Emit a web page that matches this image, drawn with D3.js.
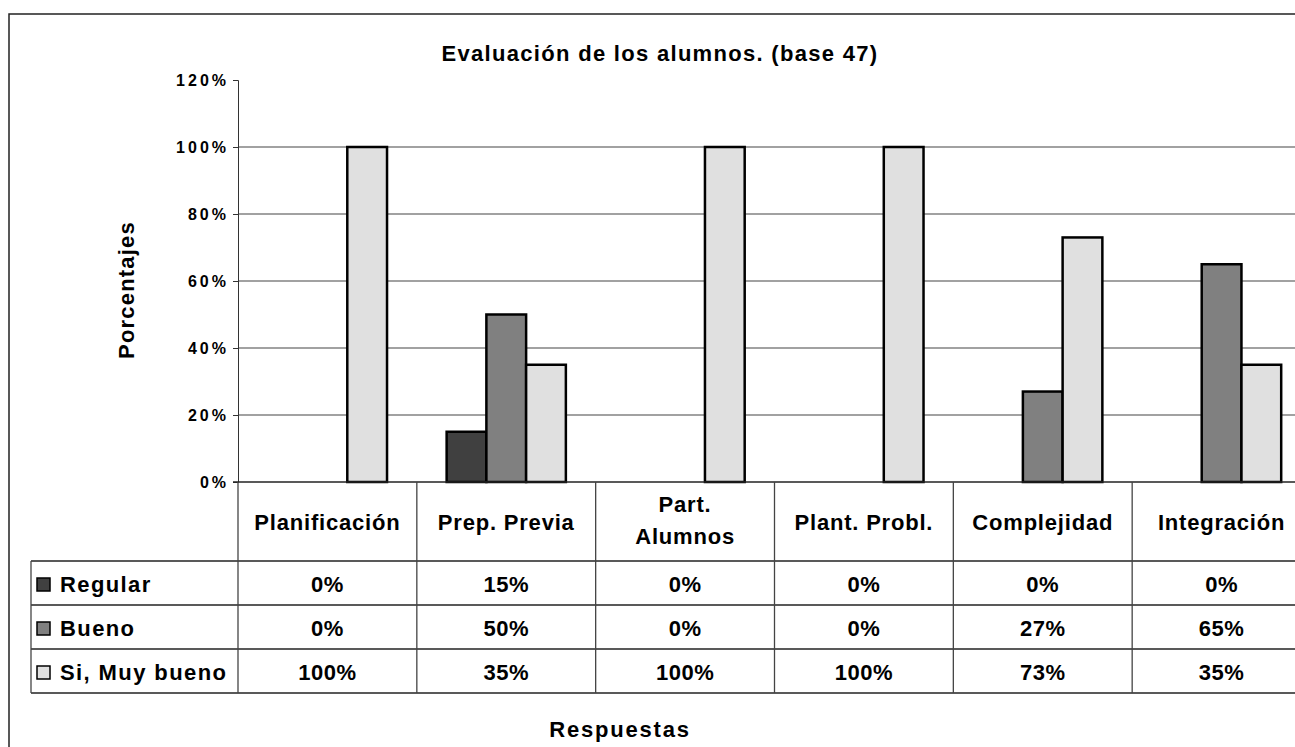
<!DOCTYPE html>
<html>
<head>
<meta charset="utf-8">
<script src="https://cdn.jsdelivr.net/npm/d3@7"></script>
<style>
  body { margin: 0; background: #fff; }
  svg text { font-family: "Liberation Sans", Arial, sans-serif; font-weight: bold; fill: #000; }
  .axis path, .axis line { stroke: #333; }
</style>
</head>
<body>
<svg id="chart"></svg>
<script>
const w = 1295, h = 747;

// data
const categories = ["Planificación", "Prep. Previa", "Part.\nAlumnos", "Plant. Probl.", "Complejidad", "Integración"];
const series = ["Regular", "Bueno", "Si, Muy bueno"];
const regular = [0, 0.15, 0, 0, 0, 0];
const bueno = [0, 0.50, 0, 0, 0.27, 0.65];
const muyBueno = [1.00, 0.35, 1.00, 1.00, 0.73, 0.35];
const yTicks = [0, 0.2, 0.4, 0.6, 0.8, 1.0, 1.2];
const colors = ["#404040", "#808080", "#e0e0e0"];

const values = [regular, bueno, muyBueno];

const plot = { left: 238, right: 1311, top: 80, bottom: 482 };
const tableLeft = 31, tableBottom = 693, headerBottom = 561;

const chart = d3.select('#chart')
  .attr('width', w)
  .attr('height', h);

// outer frame (runs off the page on the right and bottom)
chart.append('rect')
  .attr('x', 9).attr('y', 14)
  .attr('width', 1320).attr('height', 760)
  .attr('fill', 'none')
  .attr('stroke', '#222')
  .attr('stroke-width', 1.5);

const xScale = d3.scaleBand()
  .domain(categories)
  .range([plot.left, plot.right]);

const xInner = d3.scaleBand()
  .domain(series)
  .range([0, xScale.bandwidth()])
  .paddingInner(0)
  .paddingOuter(0.75);

const yScale = d3.scaleLinear()
  .domain([0, 1.2])
  .range([plot.bottom, plot.top]);

const colorScale = d3.scaleOrdinal().domain(series).range(colors);

// gridlines
chart.append('g')
  .selectAll('line')
  .data(yTicks.filter(d => d > 0 && d < 1.2))
  .join('line')
  .attr('x1', plot.left).attr('x2', plot.right)
  .attr('y1', d => yScale(d)).attr('y2', d => yScale(d))
  .attr('stroke', '#444')
  .attr('stroke-width', 1.2);

// Y AXIS
const yAxisGroup = chart.append('g')
  .attr('class', 'axis')
  .attr('transform', `translate(${plot.left}, 0)`)
  .call(d3.axisLeft(yScale)
    .tickValues(yTicks)
    .tickSize(5)
    .tickPadding(4)
    .tickFormat(d3.format('.0%')));
yAxisGroup.select('.domain').attr('stroke', '#555');
yAxisGroup.selectAll('text')
  .style('font-size', '16px')
  .style('letter-spacing', '3px');

// bars
const rows = [];
series.forEach((s, i) => {
  categories.forEach((c, j) => rows.push({ series: s, category: c, value: values[i][j] }));
});

chart.append('g')
  .selectAll('rect')
  .data(rows.filter(d => d.value > 0))
  .join('rect')
  .attr('x', d => xScale(d.category) + xInner(d.series))
  .attr('y', d => yScale(d.value))
  .attr('width', xInner.bandwidth())
  .attr('height', d => yScale(0) - yScale(d.value))
  .attr('fill', d => colorScale(d.series))
  .attr('stroke', '#000')
  .attr('stroke-width', 2.5);

// x axis line at 0%
chart.append('line')
  .attr('x1', plot.left - 5).attr('x2', w + 20)
  .attr('y1', yScale(0)).attr('y2', yScale(0))
  .attr('stroke', '#222').attr('stroke-width', 1.5);

// DATA TABLE
const rowScale = d3.scaleBand()
  .domain(series)
  .range([headerBottom, tableBottom]);

const table = chart.append('g');

// horizontal lines of the table
table.selectAll('line.hrow')
  .data([headerBottom, ...series.map(s => rowScale(s) + rowScale.bandwidth())])
  .join('line')
  .attr('class', 'hrow')
  .attr('x1', tableLeft).attr('x2', w + 20)
  .attr('y1', d => d).attr('y2', d => d)
  .attr('stroke', '#222').attr('stroke-width', 1.3);

// vertical lines
table.selectAll('line.vcol')
  .data(categories)
  .join('line')
  .attr('class', 'vcol')
  .attr('x1', d => xScale(d)).attr('x2', d => xScale(d))
  .attr('y1', plot.bottom).attr('y2', tableBottom)
  .attr('stroke', '#444').attr('stroke-width', 1.3);

table.append('line')
  .attr('x1', tableLeft).attr('x2', tableLeft)
  .attr('y1', headerBottom).attr('y2', tableBottom)
  .attr('stroke', '#444').attr('stroke-width', 1.3);

// header labels
const headers = table.selectAll('text.head')
  .data(categories)
  .join('text')
  .attr('class', 'head')
  .attr('text-anchor', 'middle')
  .style('font-size', '22px')
  .style('letter-spacing', '0.8px');

headers.each(function(d) {
  const lines = d.split('\n');
  const cx = xScale(d) + xScale.bandwidth() / 2;
  const cy = (plot.bottom + headerBottom) / 2 + 8 - (lines.length - 1) * 18;
  d3.select(this).selectAll('tspan')
    .data(lines)
    .join('tspan')
    .attr('x', cx)
    .attr('y', (l, i) => cy + i * 32)
    .text(l => l);
});

// legend keys and row labels
series.forEach((s, i) => {
  const cy = rowScale(s) + rowScale.bandwidth() / 2;
  table.append('rect')
    .attr('x', 37).attr('y', cy - 5)
    .attr('width', 13).attr('height', 13)
    .attr('fill', colorScale(s))
    .attr('stroke', '#000').attr('stroke-width', 1.5);
  table.append('text')
    .attr('x', 60).attr('y', cy + 9)
    .style('font-size', '22px')
    .style('letter-spacing', '1.4px')
    .text(s);
});

// table values
table.selectAll('text.val')
  .data(rows)
  .join('text')
  .attr('class', 'val')
  .attr('text-anchor', 'middle')
  .attr('x', d => xScale(d.category) + xScale.bandwidth() / 2)
  .attr('y', d => rowScale(d.series) + rowScale.bandwidth() / 2 + 9)
  .style('font-size', '22px')
  .style('letter-spacing', '0.5px')
  .text(d => d3.format('.0%')(d.value));

// TITLE
chart.append('text')
  .attr('x', 660).attr('y', 61)
  .attr('text-anchor', 'middle')
  .style('font-size', '22px')
  .style('letter-spacing', '1.3px')
  .text('Evaluación de los alumnos. (base 47)');

// Y AXIS LABEL
chart.append('text')
  .attr('transform', `translate(${134}, ${290}) rotate(-90)`)
  .attr('text-anchor', 'middle')
  .style('font-size', '22px')
  .style('letter-spacing', '1.2px')
  .text('Porcentajes');

// X AXIS LABEL
chart.append('text')
  .attr('x', 620).attr('y', 737)
  .attr('text-anchor', 'middle')
  .style('font-size', '22px')
  .style('letter-spacing', '1.8px')
  .text('Respuestas');
</script>
</body>
</html>
